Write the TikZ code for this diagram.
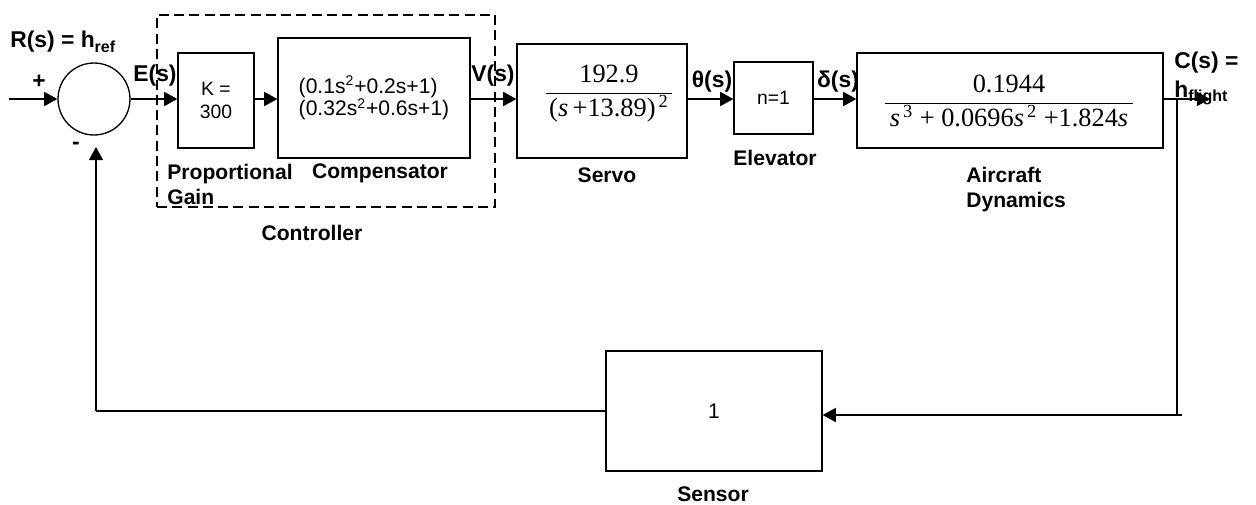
\documentclass[tikz,border=0pt]{standalone}
\usepackage{fontspec}
\setmainfont{Liberation Sans}
\newfontfamily\serif{Liberation Serif}
\usetikzlibrary{arrows.meta,calc}
\begin{document}
\begin{tikzpicture}[x=0.02cm,y=-0.02cm,
  blk/.style={draw,line width=0.75pt,inner sep=0pt,font=\fontsize{11}{13}\selectfont},
  arr/.style={line width=0.85pt,-{Triangle[length=7.5pt,width=8pt]}},
  ln/.style={line width=0.85pt},
  sig/.style={inner sep=0pt,font=\bfseries\fontsize{13}{15}\selectfont},
  lbl/.style={inner sep=0pt,font=\bfseries\fontsize{12}{14.2}\selectfont},
  tf/.style={inner sep=0pt,font=\serif\fontsize{15}{18}\selectfont}]
\useasboundingbox (0,0) rectangle (1256,504);

% controller dashed frame
\node[draw,line width=0.85pt,dash pattern=on 5.7pt off 3pt,minimum width=67.6mm,minimum height=38.4mm,inner sep=0pt] (ctrlbox) at (326,111) {};

% blocks
\node[draw,circle,line width=0.75pt,minimum size=14.4mm,inner sep=0pt] (sum) at (94,99) {};
\node[blk,minimum width=15.2mm,minimum height=19mm,align=center] (k) at (216,100.5) {K =\\300};
\node[blk,minimum width=38.4mm,minimum height=24mm,align=left,font=\fontsize{12}{13}\selectfont] (comp) at (374,98) {(0.1s\textsuperscript{2}+0.2s+1)\\(0.32s\textsuperscript{2}+0.6s+1)};
\node[blk,minimum width=34mm,minimum height=22.8mm] (servo) at (602,101) {};
\node[blk,minimum width=15.8mm,minimum height=14.4mm] (elev) at (773.5,98) {n=1};
\node[blk,minimum width=61.2mm,minimum height=19mm] (air) at (1010,100.5) {};
\node[blk,minimum width=43.2mm,minimum height=24mm,font=\fontsize{12}{14}\selectfont] (sensor) at (714,411) {1};

% transfer functions
\node[tf] (servotf) at (609,93.5) {$\displaystyle\frac{\hbox{192.9}}{\makebox[72pt]{(\textit{s}\,+13.89)\textsuperscript{\,2}}}$};
\node[tf] (airtf) at (1009,101) {$\displaystyle\frac{\hbox{0.1944}}{\makebox[141pt]{\textit{s}\textsuperscript{\,3} + 0.0696\textit{s}\textsuperscript{\,2} +1.824\textit{s}}}$};

% connectors
\coordinate (in) at (9,99);
\draw[arr] (in) -- (sum.west);
\draw[arr] (sum.east) -- (sum.east -| k.west);
\draw[arr] (k.east |- sum) -- (comp.west |- sum);
\draw[arr] (comp.east |- sum) -- (servo.west |- sum);
\draw[arr] (servo.east |- sum) -- (elev.west |- sum);
\draw[arr] (elev.east |- sum) -- (air.west |- sum);
\coordinate (out) at (1210,99);
\draw[arr] (air.east |- sum) -- (out);
\coordinate (br) at (1177,99);
\coordinate (fbR) at (1182,415);
\draw[ln] (br) -- (br |- fbR);
\draw[arr] (fbR) -- (sensor.east |- fbR);
\coordinate (fbL) at (96,411);
\coordinate (sumIn) at (96,147);
\draw[ln] (sensor.west) -- (fbL);
\draw[arr] (fbL) -- (sumIn);

% signal labels
\node[sig,anchor=west] (rlab) at (10,42) {R(s) = h\textsubscript{ref}};
\node[sig] (plus) at (39,82) {+};
\node[sig] (minus) at (76,146) {-};
\node[sig] (elab) at (155,76) {E(s)};
\node[sig] (vlab) at (493,76) {V(s)};
\node[sig] (thlab) at (712,82) {θ(s)};
\node[sig] (dlab) at (838,82) {δ(s)};
\node[sig,anchor=west] (clab) at (1174,63) {C(s) =};
\node[sig,anchor=west] (hlab) at (1174,93) {h\textsubscript{flight}};

% block labels
\node[lbl,align=left,anchor=west] (pglab) at (167,184.5) {Proportional\\Gain};
\node[lbl] (complab) at (380,173) {Compensator};
\node[lbl] (ctrllab) at (312,233) {Controller};
\node[lbl] (servolab) at (607,175) {Servo};
\node[lbl] (elevlab) at (775,158) {Elevator};
\node[lbl,align=left,anchor=west] (airlab) at (966,189.5) {Aircraft\\Dynamics};
\node[lbl] (senslab) at (713,494) {Sensor};
\end{tikzpicture}
\end{document}
